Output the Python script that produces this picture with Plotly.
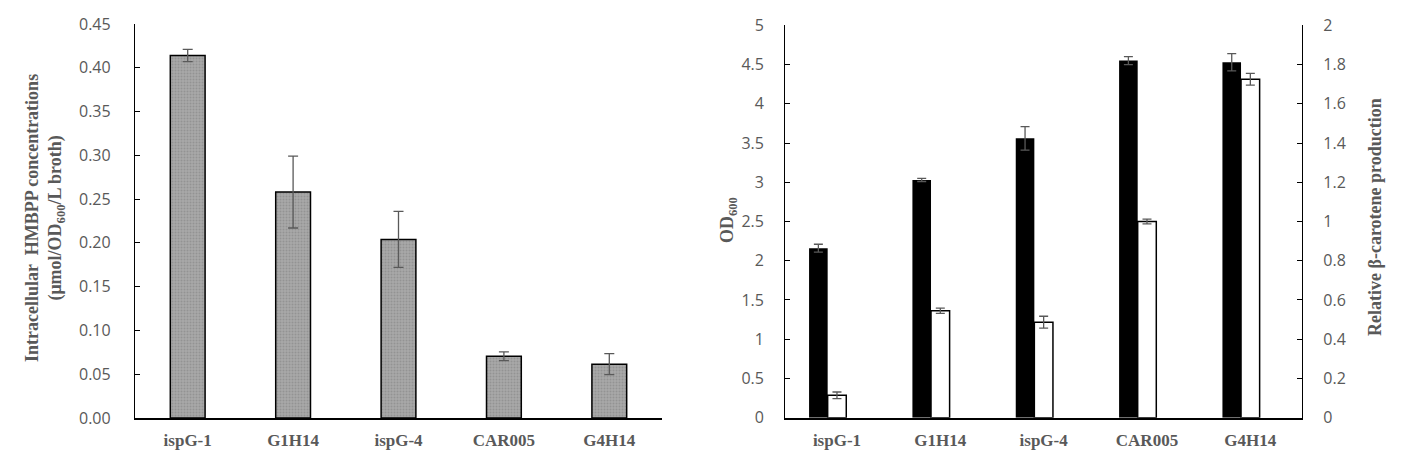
import plotly.graph_objects as go

categories = ["ispG-1", "G1H14", "ispG-4", "CAR005", "G4H14"]

# Left chart: intracellular HMBPP
hmbpp = [0.414, 0.258, 0.204, 0.0705, 0.0615]
hmbpp_err = [0.007, 0.041, 0.032, 0.005, 0.012]

# Right chart: OD600 (left axis) and relative beta-carotene (right axis)
od600 = [2.16, 3.03, 3.56, 4.55, 4.53]
od600_err = [0.05, 0.02, 0.15, 0.05, 0.11]
carotene = [0.114, 0.545, 0.487, 1.0, 1.725]
carotene_err = [0.017, 0.013, 0.03, 0.012, 0.03]

TICK_FONT = dict(family="Open Sans", size=16, color="#595959")
CAT_FONT = dict(family="Liberation Serif", size=17, color="#595959", weight="bold")
TITLE_FONT = dict(family="Liberation Serif", size=18, color="#595959", weight="bold")
ERR = dict(type="data", visible=True, color="#595959", thickness=1.3)

fig = go.Figure()

fig.add_trace(go.Bar(
    x=categories, y=hmbpp, width=0.33,
    marker=dict(color="#a9a9a9", line=dict(color="#000000", width=1.5),
                pattern=dict(shape=".", fgcolor="#939393", bgcolor="#a9a9a9",
                             size=3, solidity=0.35, fillmode="replace")),
    error_y=dict(array=hmbpp_err, width=5, **ERR),
    xaxis="x", yaxis="y", showlegend=False,
))

fig.add_trace(go.Bar(
    x=categories, y=od600, width=0.18, offset=-0.27,
    marker=dict(color="#000000", line=dict(color="#000000", width=0)),
    error_y=dict(array=od600_err, width=4.5, **ERR),
    xaxis="x2", yaxis="y2", showlegend=False,
))
fig.add_trace(go.Bar(
    x=categories, y=carotene, width=0.18, offset=-0.09,
    marker=dict(color="#ffffff", line=dict(color="#000000", width=1.5)),
    error_y=dict(array=carotene_err, width=4.5, **ERR),
    xaxis="x2", yaxis="y3", showlegend=False,
))

yb_l, yt_l = 1 - 418 / 464, 1 - 24 / 464
yb_r, yt_r = 1 - 417.7 / 464, 1 - 25.3 / 464

xaxis_common = dict(type="category", showline=True, linecolor="#000000", linewidth=1.5,
                    ticks="", tickfont=CAT_FONT, showgrid=False, zeroline=False,
                    ticklabelstandoff=6, automargin=False)
yaxis_common = dict(showline=True, linecolor="#000000", linewidth=1.3, ticks="inside",
                    ticklen=5, tickcolor="#000000", tickwidth=1.3, tickfont=TICK_FONT,
                    showgrid=False, zeroline=False, automargin=False)

fig.update_layout(
    width=1409, height=464,
    margin=dict(l=0, r=0, t=0, b=0, autoexpand=False),
    paper_bgcolor="#ffffff", plot_bgcolor="rgba(0,0,0,0)",
    barmode="overlay",
    xaxis=dict(domain=[135 / 1409, 662 / 1409], anchor="y", **xaxis_common),
    yaxis=dict(domain=[yb_l, yt_l], anchor="x", range=[0, 0.45], dtick=0.05,
               tickformat=".2f", ticklabelstandoff=20, **yaxis_common),
    xaxis2=dict(domain=[785.3 / 1409, 1302 / 1409], anchor="y2", **xaxis_common),
    yaxis2=dict(domain=[yb_r, yt_r], anchor="x2", range=[0, 5], dtick=0.5,
                ticklabelstandoff=17, **yaxis_common),
    yaxis3=dict(overlaying="y2", side="right", anchor="x2", range=[0, 2], dtick=0.2,
                ticklabelstandoff=17, **yaxis_common),
)

ann = dict(xref="paper", yref="paper", textangle=-90, showarrow=False,
           font=TITLE_FONT, xanchor="center", yanchor="middle", align="center")
fig.add_annotation(
    text="Intracellular  HMBPP concentrations<br>(μmol/OD<sub>600</sub>/L broth)",
    x=45 / 1409, y=1 - 218 / 464, **ann)
fig.add_annotation(text="OD<sub>600</sub>", x=728 / 1409, y=1 - 220 / 464, **ann)
fig.add_annotation(text="Relative β-carotene production",
                   x=1375 / 1409, y=1 - 217 / 464, **ann)

fig.write_html("out.html", config={"displayModeBar": False},
               post_script="document.body.style.margin='0';document.body.style.overflow='hidden';")
